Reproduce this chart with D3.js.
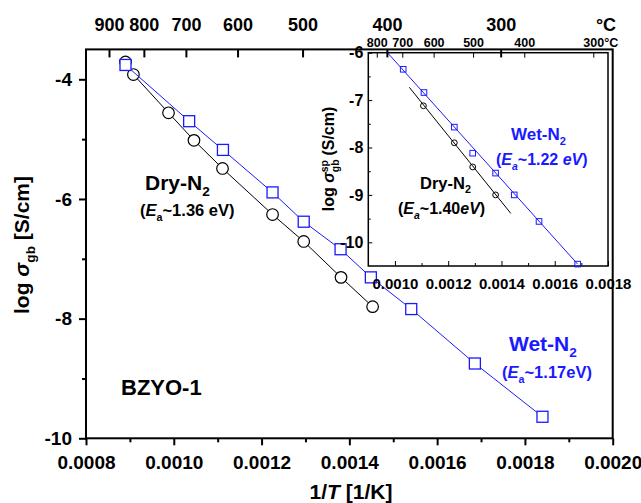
<!DOCTYPE html>
<html>
<head>
<meta charset="utf-8">
<script src="https://cdn.jsdelivr.net/npm/d3@7"></script>
<style>
  body { margin: 0; background: #fff; }
  svg text { font-family: "Liberation Sans", Arial, Helvetica, sans-serif; font-weight: bold; }
</style>
</head>
<body>
<svg id="chart" width="641" height="503"></svg>
<script>
// main plot data (1/T in 1/K, log sigma_gb)
const dryX = [0.000890, 0.000908, 0.000988, 0.001046, 0.001111, 0.001225, 0.001296, 0.001381, 0.001453];
const dryY = [-3.71, -3.92, -4.56, -5.02, -5.49, -6.26, -6.71, -7.31, -7.80];
const wetX = [0.000890, 0.001035, 0.001112, 0.001225, 0.001296, 0.001380, 0.001449, 0.001541, 0.001686, 0.001840];
const wetY = [-3.76, -4.70, -5.18, -5.89, -6.38, -6.84, -7.31, -7.84, -8.75, -9.64];

// inset data (specific gb conductivity)
const insetDryX = [0.001107, 0.001223, 0.001292, 0.001378];
const insetDryY = [-7.12, -7.90, -8.41, -9.00];
const insetWetX = [0.001031, 0.001109, 0.001223, 0.001292, 0.001378, 0.001448, 0.001541, 0.001686];
const insetWetY = [-6.35, -6.84, -7.57, -8.12, -8.54, -9.00, -9.56, -10.46];
const insetDryFitX = [0.001054, 0.001435];
const insetDryFitY = [-6.73, -9.39];
const insetWetFitX = [0.000972, 0.001686];
const insetWetFitY = [-6.0, -10.46];

// tick labels
const mainXTicks = [0.0008, 0.0010, 0.0012, 0.0014, 0.0016, 0.0018, 0.0020];
const mainXMinor = [0.0009, 0.0011, 0.0013, 0.0015, 0.0017, 0.0019];
const mainYTicks = [-4, -6, -8, -10];
const mainYMinor = [-5, -7, -9];
const topTempC = [900, 800, 700, 600, 500, 400, 300];
const insetXTicks = [0.0010, 0.0012, 0.0014, 0.0016, 0.0018];
const insetXMinor = [0.0011, 0.0013, 0.0015, 0.0017];
const insetYTicks = [-6, -7, -8, -9, -10];
const insetYMinor = [-6.5, -7.5, -8.5, -9.5];
const insetTempC = [800, 700, 600, 500, 400, 300];

const BLUE = "#1a1aff";
const svg = d3.select("#chart");

const x = d3.scaleLinear().domain([0.0008, 0.0020]).range([86, 612.7]);
const y = d3.scaleLinear().domain([-10, -3.5]).range([438.3, 49.4]);

const ix = d3.scaleLinear().domain([0.0009, 0.0018]).range([368.3, 608]);
const iy = d3.scaleLinear().domain([-10.5, -6]).range([266, 52.7]);

function toKinv(c) { return 1 / (c + 273.15); }
function plain(d) { return String(d); }

// text with italic / sub / sup pieces
function addLabel(parent, xPos, yPos, size, color, parts, anchor) {
  const t = parent.append("text")
    .attr("x", xPos).attr("y", yPos)
    .attr("font-size", size + "px")
    .attr("fill", color)
    .attr("text-anchor", anchor || "start");
  let shift = 0;
  parts.forEach(function (p) {
    const s = t.append("tspan").text(p.t);
    const target = p.sub ? size * 0.3 : p.sup ? -size * 0.4 : 0;
    if (target !== shift) { s.attr("dy", target - shift); shift = target; }
    if (p.sub || p.sup) s.attr("font-size", (size * 0.65) + "px");
    if (p.it) s.attr("font-style", "italic");
    if (p.dx) s.attr("dx", p.dx);
  });
  return t;
}

function series(g, sx, sy, xs, ys, color, shape, size, sw) {
  const pts = xs.map(function (d, i) { return [d, ys[i]]; });
  g.append("path")
    .attr("d", d3.line().x(function (d) { return sx(d[0]); }).y(function (d) { return sy(d[1]); })(pts))
    .attr("fill", "none").attr("stroke", color).attr("stroke-width", 1);
  if (shape === "circle") {
    g.selectAll(null).data(pts).enter().append("circle")
      .attr("cx", function (d) { return sx(d[0]); })
      .attr("cy", function (d) { return sy(d[1]); })
      .attr("r", size)
      .attr("fill", "#fff").attr("stroke", color).attr("stroke-width", sw);
  } else {
    g.selectAll(null).data(pts).enter().append("rect")
      .attr("x", function (d) { return sx(d[0]) - size / 2; })
      .attr("y", function (d) { return sy(d[1]) - size / 2; })
      .attr("width", size).attr("height", size)
      .attr("fill", "#fff").attr("stroke", color).attr("stroke-width", sw);
  }
}

function fitLine(g, sx, sy, xs, ys, color) {
  g.append("line")
    .attr("x1", sx(xs[0])).attr("y1", sy(ys[0]))
    .attr("x2", sx(xs[1])).attr("y2", sy(ys[1]))
    .attr("stroke", color).attr("stroke-width", 1);
}

function styleAxis(g, size, width) {
  g.select(".domain").remove();
  g.selectAll("line").attr("stroke", "#000").attr("stroke-width", width);
  g.selectAll("text").attr("font-size", size + "px").attr("fill", "#000");
}

// ---- main plot data ----
const main = svg.append("g");
series(main, x, y, dryX, dryY, "#000", "circle", 5.8, 1.2);
series(main, x, y, wetX, wetY, BLUE, "square", 11, 1.3);

// ---- inset ----
const inset = svg.append("g");
inset.append("rect")
  .attr("x", 368.3).attr("y", 52.7)
  .attr("width", 608 - 368.3).attr("height", 266 - 52.7)
  .attr("fill", "#fff").attr("stroke", "#000").attr("stroke-width", 1.5);

fitLine(inset, ix, iy, insetDryFitX, insetDryFitY, "#000");
fitLine(inset, ix, iy, insetWetFitX, insetWetFitY, BLUE);
inset.selectAll(null).data(insetDryX).enter().append("circle")
  .attr("cx", function (d) { return ix(d); })
  .attr("cy", function (d, i) { return iy(insetDryY[i]); })
  .attr("r", 2.9).attr("fill", "none").attr("stroke", "#000").attr("stroke-width", 1);
inset.selectAll(null).data(insetWetX).enter().append("rect")
  .attr("x", function (d) { return ix(d) - 2.8; })
  .attr("y", function (d, i) { return iy(insetWetY[i]) - 2.8; })
  .attr("width", 5.6).attr("height", 5.6)
  .attr("fill", "none").attr("stroke", BLUE).attr("stroke-width", 1);

inset.append("g").attr("transform", "translate(0,266)")
  .call(d3.axisBottom(ix).tickValues(insetXTicks).tickFormat(d3.format(".4f")).tickSize(-5).tickPadding(12))
  .call(function (g) { styleAxis(g, 15, 1); });
inset.append("g").attr("transform", "translate(0,266)")
  .call(d3.axisBottom(ix).tickValues(insetXMinor).tickFormat("").tickSize(-3))
  .call(function (g) { styleAxis(g, 15, 1); });
inset.append("g").attr("transform", "translate(368.3,0)")
  .call(d3.axisLeft(iy).tickValues(insetYTicks).tickFormat(plain).tickSize(-4).tickPadding(5))
  .call(function (g) { styleAxis(g, 16, 1); });
inset.append("g").attr("transform", "translate(368.3,0)")
  .call(d3.axisLeft(iy).tickValues(insetYMinor).tickFormat("").tickSize(-2.5))
  .call(function (g) { styleAxis(g, 16, 1); });
inset.append("g").attr("transform", "translate(0,52.7)")
  .call(d3.axisTop(ix).tickValues(insetTempC.map(toKinv))
    .tickFormat(function (d, i) { return insetTempC[i]; })
    .tickSize(-5).tickPadding(6))
  .call(function (g) { styleAxis(g, 12.5, 1); })
  .call(function (g) {
    g.selectAll(".tick").filter(function (d, i) { return i === insetTempC.length - 1; })
      .select("text").attr("text-anchor", "start").attr("x", -10.5).text("300°C");
  });

// inset labels
addLabel(inset, 511, 140, 17, BLUE, [{ t: "Wet-N" }, { t: "2", sub: true }]);
addLabel(inset, 496, 165, 16, BLUE, [{ t: "(" }, { t: "E", it: true }, { t: "a", sub: true, it: true }, { t: "~1.22 " }, { t: "eV", it: true }, { t: ")" }]);
addLabel(inset, 420, 188.5, 16.5, "#000", [{ t: "Dry-N" }, { t: "2", sub: true }]);
addLabel(inset, 398, 214, 16, "#000", [{ t: "(" }, { t: "E", it: true }, { t: "a", sub: true, it: true }, { t: "~1.40" }, { t: "eV", it: true }, { t: ")" }]);

const iTitle = inset.append("g").attr("transform", "translate(334,159) rotate(-90)");
addLabel(iTitle, 0, 0, 16, "#000", [
  { t: "log " }, { t: "σ", it: true }, { t: "gb", sub: true }, { t: "sp", sup: true, dx: -12.7 }, { t: " (S/cm)" }
], "middle");

// ---- main frame and axes ----
svg.append("rect")
  .attr("x", 86).attr("y", 49.4)
  .attr("width", 612.7 - 86).attr("height", 438.3 - 49.4)
  .attr("fill", "none").attr("stroke", "#000").attr("stroke-width", 2);

svg.append("g").attr("transform", "translate(0,438.3)")
  .call(d3.axisBottom(x).tickValues(mainXTicks).tickFormat(d3.format(".4f")).tickSize(7).tickPadding(10))
  .call(function (g) { styleAxis(g, 19, 2); });
svg.append("g").attr("transform", "translate(0,438.3)")
  .call(d3.axisBottom(x).tickValues(mainXMinor).tickFormat("").tickSize(4))
  .call(function (g) { styleAxis(g, 19, 2); });
svg.append("g").attr("transform", "translate(86,0)")
  .call(d3.axisLeft(y).tickValues(mainYTicks).tickFormat(plain).tickSize(7).tickPadding(7))
  .call(function (g) { styleAxis(g, 19, 2); });
svg.append("g").attr("transform", "translate(86,0)")
  .call(d3.axisLeft(y).tickValues(mainYMinor).tickFormat("").tickSize(4))
  .call(function (g) { styleAxis(g, 19, 2); });
svg.append("g").attr("transform", "translate(0,49.4)")
  .call(d3.axisTop(x).tickValues(topTempC.map(toKinv))
    .tickFormat(function (d, i) { return topTempC[i]; })
    .tickSize(-8).tickPadding(18))
  .call(function (g) { styleAxis(g, 18, 2); });
svg.append("text").attr("x", 606).attr("y", 31.4)
  .attr("text-anchor", "middle").attr("font-size", "18px").text("°C");

// main labels
addLabel(svg, 145, 190, 21, "#000", [{ t: "Dry-N" }, { t: "2", sub: true }]);
addLabel(svg, 140, 216, 16.5, "#000", [{ t: "(" }, { t: "E", it: true }, { t: "a", sub: true }, { t: "~1.36 eV)" }]);
addLabel(svg, 509, 350.5, 21, BLUE, [{ t: "Wet-N" }, { t: "2", sub: true }]);
addLabel(svg, 502, 378, 16.5, BLUE, [{ t: "(" }, { t: "E", it: true }, { t: "a", sub: true }, { t: "~1.17eV)" }]);
addLabel(svg, 121, 394.5, 22, "#000", [{ t: "BZYO-1" }]);

addLabel(svg, 351, 498.5, 21, "#000", [{ t: "1/" }, { t: "T", it: true }, { t: " [1/K]" }], "middle");
const yTitle = svg.append("g").attr("transform", "translate(29,245) rotate(-90)");
addLabel(yTitle, 0, 0, 21, "#000", [{ t: "log " }, { t: "σ", it: true }, { t: "gb", sub: true }, { t: " [S/cm]" }], "middle");
</script>
</body>
</html>
